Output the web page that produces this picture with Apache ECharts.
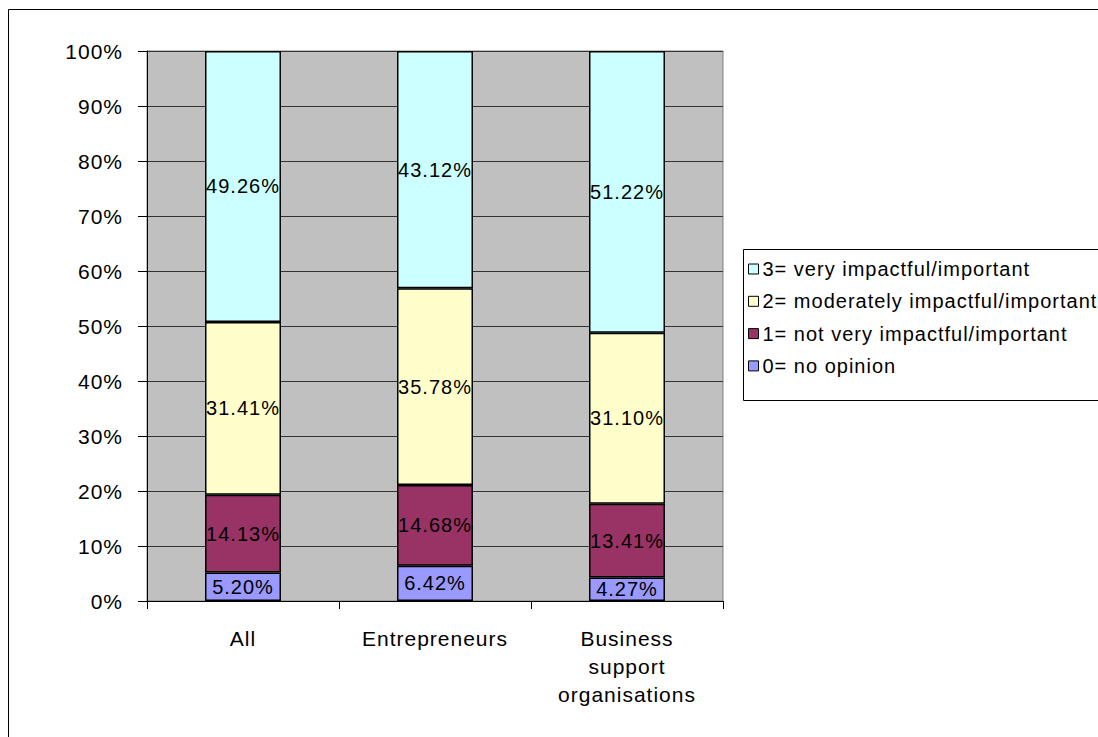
<!DOCTYPE html>
<html>
<head>
<meta charset="utf-8">
<script src="https://cdn.jsdelivr.net/npm/echarts@6/dist/echarts.min.js"></script>
<style>
  html, body { margin: 0; padding: 0; background: #fff; }
  #chart { width: 1098px; height: 737px; }
  #chart svg text { letter-spacing: 1px; }
</style>
</head>
<body>
<div id="chart"></div>
<script>
// Respondent groups along the x axis
const categories = ['All', 'Entrepreneurs', 'Business\nsupport\norganisations'];

// Share of answers per rating, in percent, bottom to top of each stack
const noOpinion   = [5.20, 6.42, 4.27];
const notVery     = [14.13, 14.68, 13.41];
const moderately  = [31.41, 35.78, 31.10];
const very        = [49.26, 43.12, 51.22];

const seriesNames = [
  '0= no opinion',
  '1= not very impactful/important',
  '2= moderately impactful/important',
  '3= very impactful/important'
];
const seriesColors = ['#9999FF', '#993366', '#FFFFCC', '#CCFFFF'];
const seriesValues = [noOpinion, notVery, moderately, very];

const yTicks = [0, 10, 20, 30, 40, 50, 60, 70, 80, 90, 100];

const FONT = 'Liberation Sans, Arial, sans-serif';
const chart = echarts.init(document.getElementById('chart'), null, { renderer: 'svg' });

chart.setOption({
  animation: false,
  backgroundColor: '#ffffff',
  textStyle: { fontFamily: FONT },
  graphic: [
    // outer chart frame
    { type: 'rect', z: -10, silent: true,
      shape: { x: 8.5, y: 9.5, width: 1300, height: 900 },
      style: { fill: 'none', stroke: '#000', lineWidth: 1 } },
    // legend frame
    { type: 'rect', z: 0, silent: true,
      shape: { x: 743.5, y: 249.5, width: 500, height: 151 },
      style: { fill: '#fff', stroke: '#000', lineWidth: 1 } }
  ],
  grid: {
    left: 147, top: 51, right: 375, bottom: 136,
    show: true, backgroundColor: '#C0C0C0', borderColor: '#808080', borderWidth: 1
  },
  legend: {
    orient: 'vertical',
    left: 748, top: 259,
    padding: 0,
    itemWidth: 10, itemHeight: 10, itemGap: 12.3,
    z: 5,
    icon: 'rect',
    data: seriesNames.slice().reverse(),
    itemStyle: { borderColor: '#000', borderWidth: 1 },
    textStyle: { fontFamily: FONT, fontSize: 20, color: '#000', lineHeight: 20, padding: [0, 0, 0, -1] }
  },
  xAxis: {
    type: 'category',
    data: categories,
    axisLine: { lineStyle: { color: '#000' } },
    axisTick: { show: true, length: 8, lineStyle: { color: '#000' } },
    axisLabel: { color: '#000', fontSize: 21, lineHeight: 28, margin: 23, fontFamily: FONT },
    splitLine: { show: false }
  },
  yAxis: {
    type: 'value',
    min: 0, max: 100, interval: 10,
    axisLine: { show: true, lineStyle: { color: '#000' } },
    axisTick: { show: true, length: 9, lineStyle: { color: '#000' } },
    axisLabel: {
      color: '#000', fontSize: 21, margin: 24, fontFamily: FONT,
      formatter: v => (yTicks.includes(v) ? v + '%' : '')
    },
    splitLine: { show: true, lineStyle: { color: '#333', width: 1 } }
  },
  series: seriesValues.map((vals, i) => ({
    name: seriesNames[i],
    type: 'bar',
    stack: 'share',
    barWidth: 76,
    data: vals,
    itemStyle: { color: seriesColors[i], borderColor: '#000', borderWidth: 1.5 },
    label: {
      show: true, position: 'inside', color: '#000', fontSize: 20, fontFamily: FONT,
      formatter: p => p.value.toFixed(2) + '%'
    }
  }))
});
</script>
</body>
</html>
